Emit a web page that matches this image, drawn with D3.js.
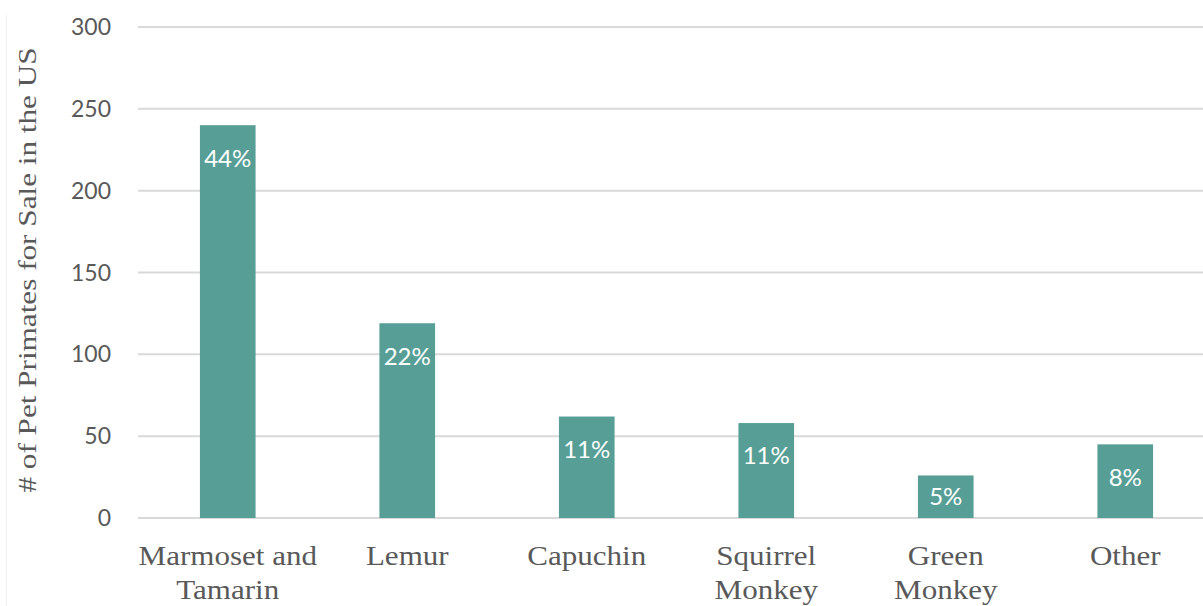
<!DOCTYPE html>
<html>
<head>
<meta charset="utf-8">
<script src="https://cdn.jsdelivr.net/npm/d3@7"></script>
<style>
  body { margin: 0; background: #fff; }
  .serif { font-family: "Liberation Serif", "DejaVu Serif", "Times New Roman", serif; }
  .sans { font-family: Lato, "Open Sans", sans-serif; }
</style>
</head>
<body>
<svg width="1203" height="606"></svg>
<script>
// data
var categories = [["Marmoset and", "Tamarin"], ["Lemur"], ["Capuchin"], ["Squirrel", "Monkey"], ["Green", "Monkey"], ["Other"]];
var counts = [240, 119, 62, 58, 26, 45];
var shares = ["44%", "22%", "11%", "11%", "5%", "8%"];
var yTicks = [0, 50, 100, 150, 200, 250, 300];

var svg = d3.select("svg"),
    margin = {top: 27, right: -12, bottom: 88, left: 138},
    width = +svg.attr("width") - margin.left - margin.right,
    height = +svg.attr("height") - margin.top - margin.bottom,
    g = svg.append("g").attr("transform", "translate(" + margin.left + "," + margin.top + ")");

var data = counts.map(function(v, i) {
  return {name: categories[i], key: i, value: v, label: shares[i]};
});

var x = d3.scaleBand()
  .domain(d3.range(data.length))
  .range([0, width])
  .paddingInner(0.69)
  .paddingOuter(0.345);

var y = d3.scaleLinear()
  .domain([0, 300])
  .range([height, 0]);

// faint chart-area border on the left
svg.append("line")
  .attr("x1", 6.5).attr("x2", 6.5)
  .attr("y1", 15).attr("y2", 606)
  .attr("stroke", "#f0f0f0")
  .attr("stroke-width", 1);

// gridlines
g.append("g")
  .selectAll("line")
  .data(yTicks)
  .enter().append("line")
  .attr("x1", 0)
  .attr("x2", 1203 - margin.left)
  .attr("y1", function(d) { return y(d); })
  .attr("y2", function(d) { return y(d); })
  .attr("stroke", "#d9d9d9")
  .attr("stroke-width", 2);

// y tick labels
g.append("g")
  .selectAll("text")
  .data(yTicks)
  .enter().append("text")
  .attr("class", "sans")
  .attr("x", -27)
  .attr("y", function(d) { return y(d); })
  .attr("dy", "0.35em")
  .attr("text-anchor", "end")
  .attr("font-size", 23)
  .attr("fill", "#595959")
  .text(function(d) { return d; });

// bars
g.append("g")
  .selectAll("rect")
  .data(data)
  .enter().append("rect")
  .attr("x", function(d) { return x(d.key); })
  .attr("y", function(d) { return y(d.value); })
  .attr("width", x.bandwidth())
  .attr("height", function(d) { return height - y(d.value); })
  .attr("fill", "#579f96");

// percentage labels
g.append("g")
  .selectAll("text")
  .data(data)
  .enter().append("text")
  .attr("class", "sans")
  .attr("x", function(d) { return x(d.key) + x.bandwidth() / 2; })
  .attr("y", function(d) {
    var top = y(d.value);
    return Math.min(top + 33, (top + height) / 2);
  })
  .attr("dy", "0.35em")
  .attr("text-anchor", "middle")
  .attr("font-size", 24)
  .attr("fill", "#ffffff")
  .text(function(d) { return d.label; });

// category labels
var cat = g.append("g")
  .selectAll("text")
  .data(data)
  .enter().append("text")
  .attr("class", "serif")
  .attr("text-anchor", "middle")
  .attr("font-size", 27)
  .attr("fill", "#595959")
  .attr("transform", function(d) {
    return "translate(" + (x(d.key) + x.bandwidth() / 2) + "," + (height + 47) + ") scale(1.15,1)";
  });

cat.selectAll("tspan")
  .data(function(d) { return d.name; })
  .enter().append("tspan")
  .attr("x", 0)
  .attr("y", function(d, i) { return i * 34; })
  .text(function(d) { return d; });

// y axis title
svg.append("text")
  .attr("class", "serif")
  .attr("transform", "translate(36,270) rotate(-90) scale(1.2,1)")
  .attr("text-anchor", "middle")
  .attr("font-size", 26)
  .attr("fill", "#595959")
  .text("# of Pet Primates for Sale in the US");
</script>
</body>
</html>
